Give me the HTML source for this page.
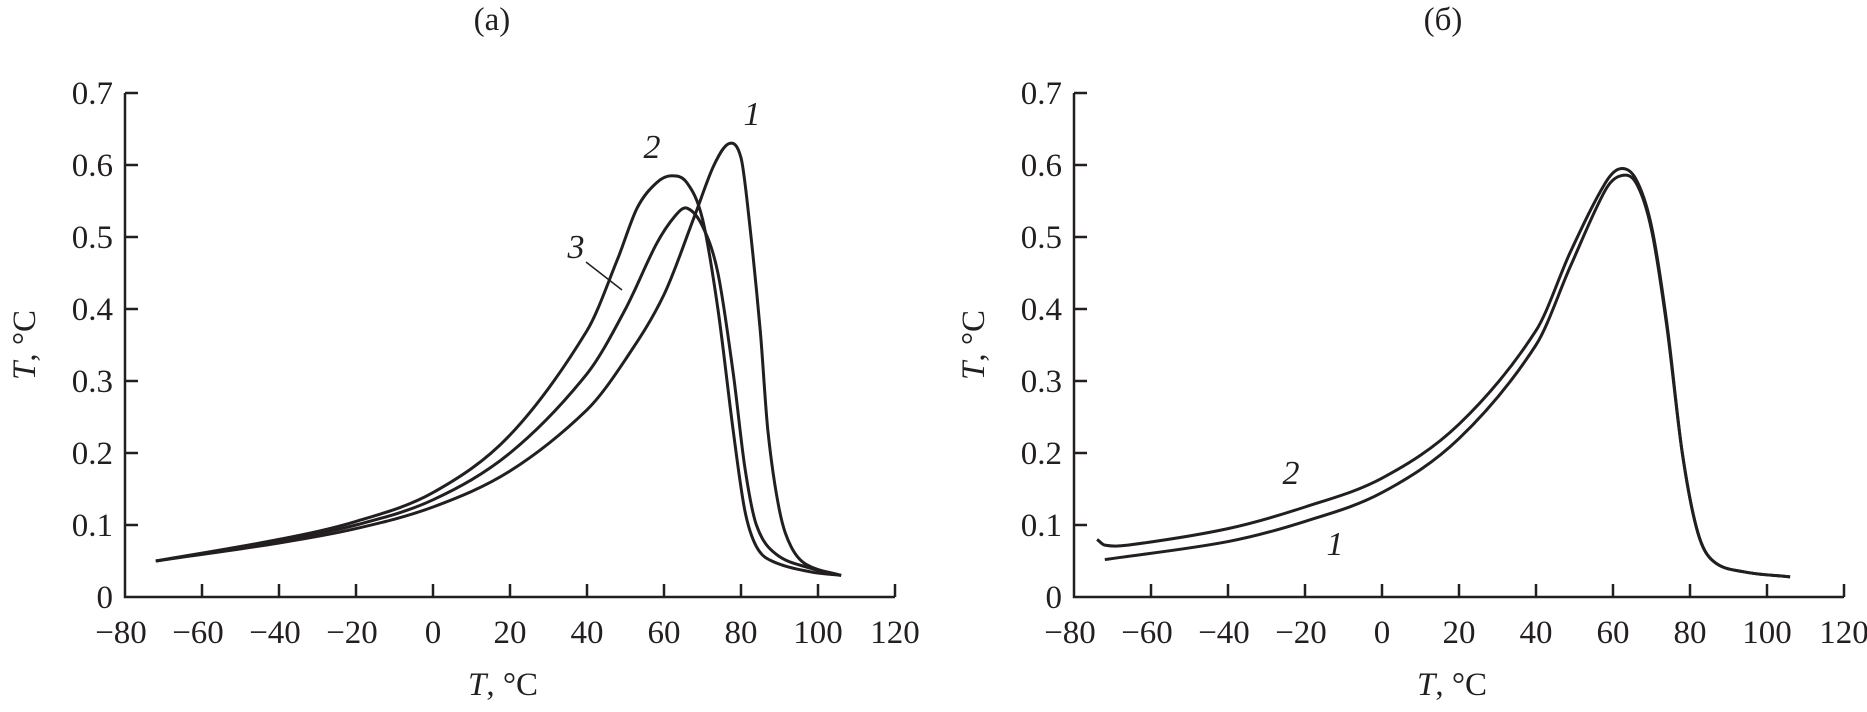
<!DOCTYPE html>
<html><head><meta charset="utf-8"><style>
body{margin:0;background:#fff}
svg text{font-family:"Liberation Serif",serif;fill:#231f20}
</style></head><body>
<svg id="chart" width="1867" height="707" viewBox="0 0 1867 707"></svg>
<script>
const xTicks=[-80,-60,-40,-20,0,20,40,60,80,100,120];
const yTicks=[0,0.1,0.2,0.3,0.4,0.5,0.6,0.7];
const yTickLabels=["0","0.1","0.2","0.3","0.4","0.5","0.6","0.7"];
const a1x=[-72,-40,-20,0,20,40,50,60,68,73,77,80,82,85,87,90,93,97,106];
const a1y=[0.05,0.075,0.095,0.125,0.175,0.26,0.33,0.42,0.53,0.60,0.63,0.61,0.53,0.37,0.23,0.12,0.07,0.045,0.03];
const a2x=[-72,-40,-20,0,20,40,48,53,58,62,66,70,74,78,81,84,88,98,106];
const a2y=[0.05,0.08,0.105,0.145,0.225,0.37,0.47,0.54,0.575,0.585,0.575,0.525,0.40,0.23,0.12,0.07,0.05,0.035,0.03];
const a3x=[-72,-40,-20,0,20,40,50,58,63,66,70,74,78,81,84,89,98,106];
const a3y=[0.05,0.078,0.1,0.135,0.2,0.31,0.40,0.49,0.53,0.54,0.515,0.45,0.31,0.18,0.1,0.06,0.04,0.03];
const b2x=[-74,-72,-66,-40,-20,0,20,40,49,58,62,66,70,74,78,82,86,94,106];
const b2y=[0.08,0.072,0.072,0.095,0.125,0.165,0.24,0.37,0.48,0.575,0.595,0.58,0.515,0.38,0.2,0.09,0.05,0.035,0.028];
const b1x=[-72,-40,-20,0,20,40,49,58,62,66,70,74,78,82,86,94,106];
const b1y=[0.052,0.077,0.105,0.145,0.22,0.35,0.46,0.565,0.585,0.575,0.51,0.375,0.2,0.09,0.05,0.035,0.028];

const NS="http://www.w3.org/2000/svg";
const svg=document.getElementById('chart');
function mk(tag,attrs,parent){const e=document.createElementNS(NS,tag);for(const k in attrs)e.setAttribute(k,attrs[k]);(parent||svg).appendChild(e);return e;}
const y0=597, yStep=720;
function yS(v){return y0-v*yStep;}
function makeX(ox){return v=>ox+(v+80)*77/20;}

function panel(ox,title,tx,series,labels,pname){
  const xS=makeX(ox);
  const g=mk('g',{});
  
  
  const ax=mk('path',{d:`M${ox},${yS(0.7)}V${y0}H${xS(120)}`,fill:'none',stroke:'#231f20','stroke-width':2.5},g);
  
  
  xTicks.forEach(t=>{
    if(t>-80){const l=mk('line',{x1:xS(t),x2:xS(t),y1:y0,y2:y0-13,stroke:'#231f20','stroke-width':2.5},g);
      }
    const s=t<0?'\u2212'+(-t):String(t);
    const tt=mk('text',{x:xS(t)-(t<0?4:0),y:y0+46,'font-size':33,'text-anchor':'middle'},g);tt.textContent=s;
    
  });
  yTicks.forEach((t,i)=>{
    if(t>0){const l=mk('line',{x1:ox,x2:ox+13,y1:yS(t),y2:yS(t),stroke:'#231f20','stroke-width':2.5},g);
      }
    const tt=mk('text',{x:ox-12,y:yS(t)+11,'font-size':33,'text-anchor':'end'},g);tt.textContent=yTickLabels[i];
    
  });
  const ti=mk('text',{x:tx,y:30,'font-size':33,'text-anchor':'middle'},g);ti.textContent=title;
  
  const xt=mk('text',{x:ox+378,y:695,'font-size':33,'text-anchor':'middle'},g);
  xt.innerHTML='<tspan font-style="italic">T</tspan>, °C';
  
  const yt=mk('text',{x:0,y:0,'font-size':33,'text-anchor':'middle',transform:`translate(${ox-90},${yS(0.35)}) rotate(-90)`},g);
  yt.innerHTML='<tspan font-style="italic">T</tspan>, °C';
  
  series.forEach(([xs,ys,nm])=>{
    const n=xs.length;
    const m=xs.map((x,i)=>{const a=Math.max(0,i-1),b=Math.min(n-1,i+1);return (ys[b]-ys[a])/(xs[b]-xs[a]);});
    let d=`M${xS(xs[0])},${yS(ys[0])}`;
    for(let i=0;i<n-1;i++){
      const h=xs[i+1]-xs[i];
      d+=`C${xS(xs[i]+h/3)},${yS(ys[i]+m[i]*h/3)} ${xS(xs[i+1]-h/3)},${yS(ys[i+1]-m[i+1]*h/3)} ${xS(xs[i+1])},${yS(ys[i+1])}`;
    }
    const p=mk('path',{d,fill:'none',stroke:'#231f20','stroke-width':3,'stroke-linejoin':'round'},g);
    
    
  });
  labels.forEach(([s,x,y])=>{
    const t=mk('text',{x,y,'font-size':34,'font-style':'italic','text-anchor':'middle'},g);t.textContent=s;
    
    
  });
  return g;
}
panel(125,'(a)',492,[[a1x,a1y,'curve-1'],[a2x,a2y,'curve-2'],[a3x,a3y,'curve-3']],
  [['1',752,125],['2',652,158],['3',576,258]],'panel-a');
const lead=mk('line',{x1:586,y1:262,x2:622,y2:290,stroke:'#231f20','stroke-width':1.5});


panel(1074,'(б)',1443,[[b1x,b1y,'curve-1'],[b2x,b2y,'curve-2']],
  [['2',1291,484],['1',1335,555]],'panel-b');
</script>
</body></html>
